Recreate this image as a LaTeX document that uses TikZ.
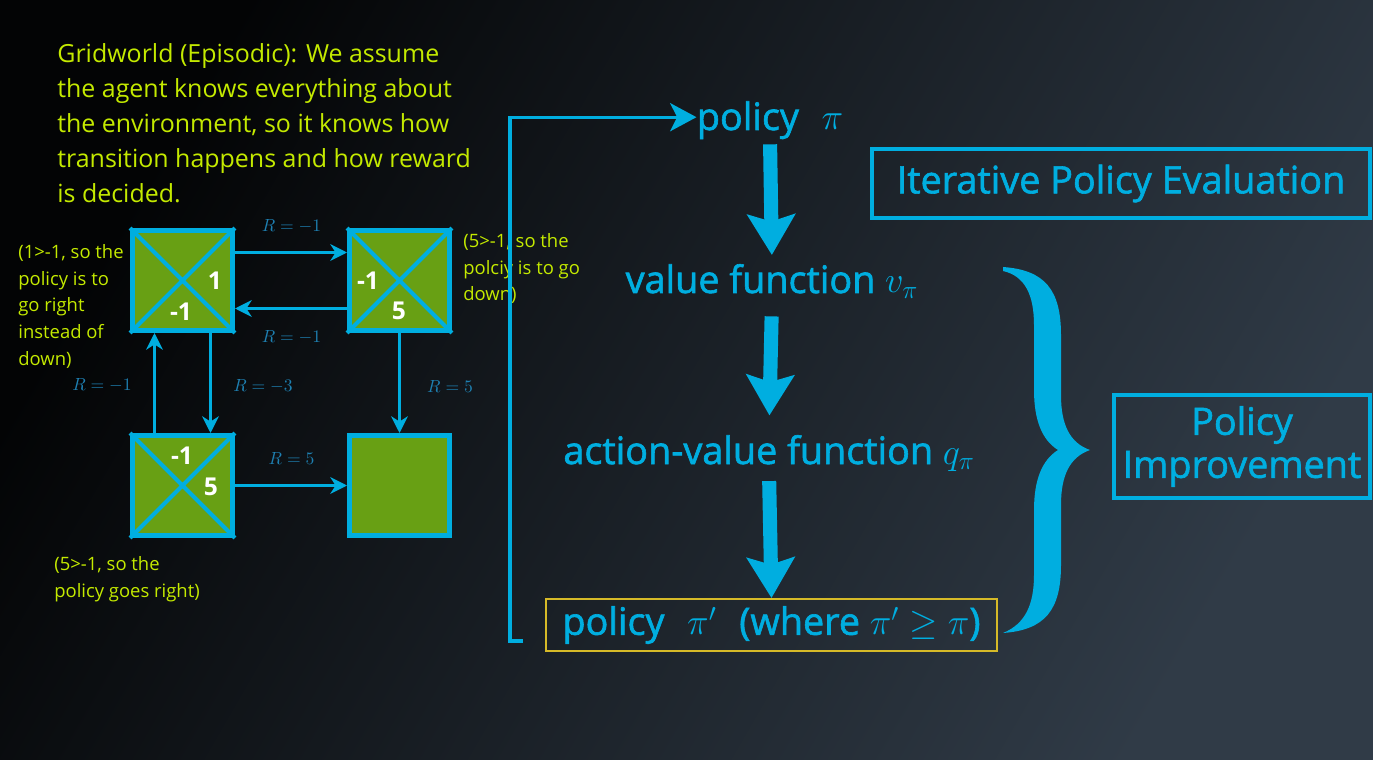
\documentclass[tikz,border=0pt]{standalone}
\usepackage{amsmath}
\usepackage{fontspec}
\setmainfont{Open Sans}
\newfontfamily\stagefont[FakeBold=1.6]{Open Sans}
\usetikzlibrary{arrows.meta,calc}

\definecolor{bgdark}{RGB}{3,4,5}
\definecolor{bglight}{RGB}{48,59,71}
\definecolor{skyblue}{RGB}{0,174,224}
\definecolor{rewardblue}{RGB}{30,128,178}
\definecolor{limetext}{RGB}{196,234,0}
\definecolor{cellgreen}{RGB}{104,160,20}
\definecolor{goldbox}{RGB}{214,186,40}

\begin{document}
\begin{tikzpicture}[x=0.02cm, y=-0.02cm,
    cell/.style={draw=skyblue, line width=2.85pt, fill=cellgreen, minimum size=2cm, inner sep=0pt},
    cross/.style={skyblue, line width=2.3pt},
    move/.style={draw=skyblue, line width=1.7pt, -{Stealth[length=9.5pt, width=9.5pt, inset=3pt]}},
    reward/.style={text=rewardblue, font=\fontsize{10}{12}\selectfont, inner sep=0pt},
    cellval/.style={text=white, font=\bfseries\fontsize{14}{14}\selectfont, inner sep=0pt},
    note/.style={text=limetext, align=left, anchor=north west, inner sep=0pt, font=\fontsize{10.5}{15.2}\selectfont},
    stage/.style={text=skyblue, inner sep=0pt, anchor=base, font=\stagefont\fontsize{21.5}{24}\selectfont},
    bigarrow/.style={draw=skyblue, line width=8pt, -{Stealth[length=23pt, width=27pt, inset=4pt]}},
    backline/.style={draw=skyblue, line width=1.9pt, -{Stealth[length=15pt, width=16pt, inset=4pt]}},
    labelbox/.style={draw=skyblue, line width=2.3pt, text=skyblue, align=center, inner sep=0pt, font=\stagefont\fontsize{21.5}{24.5}\selectfont}
]
    % Background
    \shade[top color=bgdark, bottom color=bglight, shading angle=60] (0,0) rectangle (1373,760);
    \useasboundingbox (0,0) rectangle (1373,760);

    % Description of the gridworld
    \node[note, font=\fontsize{14.2}{19.9}\selectfont] (intro) at (57,43)
        {Gridworld (Episodic): We assume\\the agent knows everything about\\the environment, so it knows how\\transition happens and how reward\\is decided.};

    % Grid cells
    \node[cell] (s1) at (182.5,280.5) {};
    \node[cell] (s2) at (399.5,280.5) {};
    \node[cell] (s3) at (182.5,485.5) {};
    \node[cell] (s4) at (399.5,485.5) {};
    \foreach \c in {s1,s2,s3}
        \draw[cross] (\c.north west) -- (\c.south east) (\c.north east) -- (\c.south west);

    % Action values inside the cells
    \node[cellval] (s1right) at (215,281) {1};
    \node[cellval] (s1down) at (181,312) {-1};
    \node[cellval] (s2left) at (368,281) {-1};
    \node[cellval] (s2down) at (399,311) {5};
    \node[cellval] (s3up) at (182,456) {-1};
    \node[cellval] (s3right) at (211,487) {5};

    % Transitions
    \draw[move] ($(s1.east)+(0,-28)$) -- ($(s2.west)+(0,-28)$);
    \draw[move] ($(s2.west)+(0,28)$) -- ($(s1.east)+(0,28)$);
    \draw[move] ($(s1.south)+(28,0)$) -- ($(s3.north)+(28,0)$);
    \draw[move] ($(s3.north)+(-28,0)$) -- ($(s1.south)+(-28,0)$);
    \draw[move] (s2) -- (s4);
    \draw[move] (s3) -- (s4);

    % Rewards
    \node[reward] (r12) at (291.5,226) {$R=-1$};
    \node[reward] (r21) at (291.5,337.5) {$R=-1$};
    \node[reward] (r13) at (263,386.5) {$R=-3$};
    \node[reward] (r31) at (102,385.5) {$R=-1$};
    \node[reward] (r24) at (450,386.5) {$R=5$};
    \node[reward] (r34) at (291.5,458.5) {$R=5$};

    % Notes on the greedy choice
    \node[note] (note1) at (18,244) {(1>-1, so the\\policy is to\\go right\\instead of\\down)};
    \node[note] (note2) at (463,233) {(5>-1, so the\\polciy is to go\\down)};
    \node[note] (note3) at (54,556) {(5>-1, so the\\policy goes right)};

    % Policy iteration steps
    \node[stage] (pol) at (770,130) {policy\hspace{0.6em}$\pi$};
    \node[stage] (val) at (772,293) {value function $v_\pi$};
    \node[stage] (act) at (769,464) {action-value function $q_\pi$};
    \node[stage, anchor=center, draw=goldbox, line width=1.1pt, minimum width=9.02cm, minimum height=1.04cm] (newpol) at (771.5,625)
        {policy\hspace{0.6em}$\pi'$\hspace{0.6em}(where $\pi' \geq \pi$)};

    \draw[bigarrow, shorten <=2.8pt, shorten >=5pt] (pol.south) -- (val.north);
    \draw[bigarrow, shorten <=10pt, shorten >=11pt] (val.south) -- (act.north);
    \draw[bigarrow, shorten <=5.5pt] (act.south) -- (newpol.north);

    % Back to the start
    \coordinate (loopstart) at (523,641);
    \coordinate (loopcorner) at (510,641);
    \draw[backline] (loopstart) -- (loopcorner) |- ([yshift=1.7pt]pol.west);

    % Stage labels
    \node[labelbox, minimum width=9.96cm, minimum height=1.38cm] (ipe) at (1121,183.5) {Iterative Policy Evaluation};
    \node[labelbox, minimum width=5.12cm, minimum height=2.06cm] (pimp) at (1242,446.5) {Policy\\Improvement};

    % Brace
    \fill[skyblue] (1003,267) .. controls (1045,270) and (1061,290) .. (1061,335)
        -- (1061,395) .. controls (1061,425) and (1070,443) .. (1090,450)
        .. controls (1070,457) and (1061,475) .. (1061,505)
        -- (1061,565) .. controls (1061,610) and (1045,630) .. (1003,633)
        .. controls (1025,624) and (1034,605) .. (1034,575)
        -- (1034,510) .. controls (1034,480) and (1042,460) .. (1058,450)
        .. controls (1042,440) and (1034,420) .. (1034,390)
        -- (1034,325) .. controls (1034,295) and (1025,276) .. (1003,271) -- cycle;
\end{tikzpicture}
\end{document}
